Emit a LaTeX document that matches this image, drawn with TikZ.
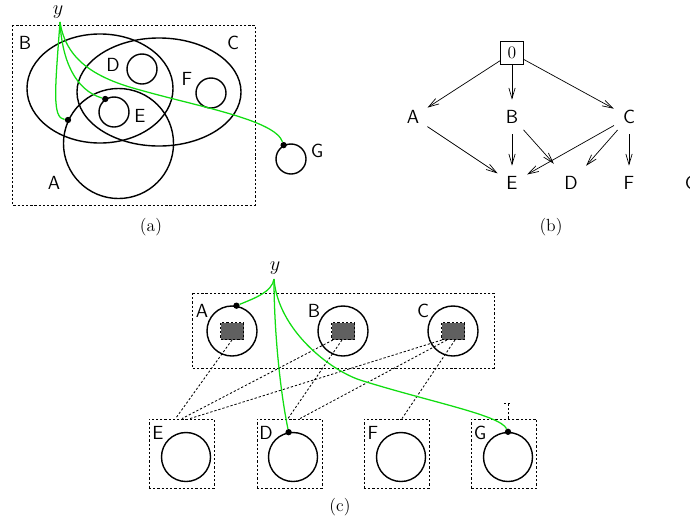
\documentclass[tikz,border=0pt]{standalone}
\usetikzlibrary{arrows.meta, calc, shapes.geometric}
\definecolor{wire}{HTML}{11DD11}
\definecolor{coregray}{HTML}{606060}

\begin{document}
\begin{tikzpicture}[
	x=0.025cm, y=-0.025cm,
	>={Straight Barb[length=7.5pt,width=4.5pt]},
	frame/.style={draw, line width=0.6pt, dash pattern=on 1.6pt off 1.4pt},
	region/.style={draw, ellipse, line width=1pt, inner sep=0pt},
	ring/.style={draw, circle, line width=1pt, inner sep=0pt},
	setlabel/.style={font=\fontsize{13.5}{16}\sffamily, inner sep=0pt},
	serif/.style={font=\fontsize{12.5}{15}\selectfont},
	varlabel/.style={font=\fontsize{14.4}{17}\selectfont, inner sep=0pt},
	hit/.style={circle, fill, inner sep=0pt, minimum size=4.5pt},
	wirepath/.style={wire, line width=0.9pt},
	lattice/.style={circle, inner sep=0pt, minimum size=0.85cm, font=\fontsize{13.5}{16}\sffamily},
	gridedge/.style={->, line width=0.5pt},
	core/.style={frame, rectangle, fill=coregray, minimum width=0.575cm, minimum height=0.425cm},
	cell/.style={frame, rectangle, minimum width=1.625cm, minimum height=1.725cm}
	]
	\useasboundingbox (0,0) rectangle (690,521);
	
	% ==========================================
	% PANEL (a): nested regions
	% ==========================================
	
	\draw[frame] (12,25) rectangle (255,205);
	
	\node[region, minimum width=3.65cm, minimum height=2.725cm] (eB) at (100,88.5) {};
	\node[region, minimum width=4.1cm, minimum height=2.7cm] (eC) at (159,92) {};
	\node[ring, minimum size=2.75cm] (cA) at (118.5,143.5) {};
	\node[ring, minimum size=0.75cm] (cD) at (142,69) {};
	\node[ring, minimum size=0.75cm] (cE) at (114,112) {};
	\node[ring, minimum size=0.75cm] (cF) at (211,93) {};
	\node[ring, minimum size=0.75cm] (cG) at (291,159) {};
	
	\node[setlabel] (lB) at (25,43) {B};
	\node[setlabel] (lC) at (233,43) {C};
	\node[setlabel] (lD) at (113,65) {D};
	\node[setlabel] (lF) at (187,79) {F};
	\node[setlabel] (lE) at (140,116) {E};
	\node[setlabel] (lA) at (54,183) {A};
	\node[setlabel] (lG) at (317,151) {G};
	
	% query point and its hits
	\node[varlabel] (ya) at (58,12) {$y$};
	\coordinate (ya0) at (60,22);
	\node[hit] (hA) at (cA.155) {};
	\node[hit] (hE) at (cE.124) {};
	\node[hit] (hG) at (cG.118) {};
	
	\draw[wirepath] (ya0) .. controls (55,90) and (52,118) .. (hA);
	\draw[wirepath] (ya0) .. controls (62,60) and (75,90) .. (hE);
	\draw[wirepath] (ya0) .. controls (66,60) and (95,78) .. (140,90)
	.. controls (200,107) and (275,120) .. (hG);
	
	\node[serif] (capa) at (151,227) {(a)};
	
	% ==========================================
	% PANEL (b): containment graph
	% ==========================================
	
	\node[draw, rectangle, line width=0.6pt, inner sep=0pt, minimum size=0.575cm, serif] (n0) at (512,53) {0};
	\node[lattice] (nA) at (413,117) {A};
	\node[lattice] (nB) at (512,117) {B};
	\node[lattice] (nC) at (629,117) {C};
	\node[lattice] (nE) at (512,183) {E};
	\node[lattice] (nD) at (571,183) {D};
	\node[lattice] (nF) at (629,183) {F};
	\node[lattice] (nG) at (691,183) {G};
	
	\draw[gridedge] (n0) -- (nA);
	\draw[gridedge] (n0) -- (nB);
	\draw[gridedge] (n0) -- (nC);
	\draw[gridedge] (nA) -- (nE);
	\draw[gridedge] (nB) -- (nE);
	\draw[gridedge, shorten >=6pt] (nB) -- (nD);
	\draw[gridedge] (nC) -- (nE);
	\draw[gridedge, shorten >=4pt] (nC) -- (nD);
	\draw[gridedge] (nC) -- (nF);
	
	\node[serif] (capb) at (551,227) {(b)};
	
	% ==========================================
	% PANEL (c): cells and their cores
	% ==========================================
	
	\draw[frame] (192,293) rectangle (494,368);
	
	\node[ring, minimum size=1.25cm] (tA) at (232,331) {};
	\node[ring, minimum size=1.25cm] (tB) at (343,331) {};
	\node[ring, minimum size=1.25cm] (tC) at (453,331) {};
	\node[core] (sA) at (232,331) {};
	\node[core] (sB) at (343,331) {};
	\node[core] (sC) at (453,331) {};
	\node[setlabel] (kA) at (202,311) {A};
	\node[setlabel] (kB) at (314,311) {B};
	\node[setlabel] (kC) at (423,311) {C};
	
	\node[cell] (bE) at (181.5,453.5) {};
	\node[cell] (bD) at (289.5,453.5) {};
	\node[cell] (bF) at (396.5,453.5) {};
	\node[cell] (bG) at (504,453.5) {};
	\node[ring, minimum size=1.225cm] (oE) at (186,457) {};
	\node[ring, minimum size=1.225cm] (oD) at (293,457) {};
	\node[ring, minimum size=1.225cm] (oF) at (401,457) {};
	\node[ring, minimum size=1.225cm] (oG) at (508,457) {};
	\node[setlabel] (kE) at (158,433) {E};
	\node[setlabel] (kD) at (266,433) {D};
	\node[setlabel] (kF) at (373,433) {F};
	\node[setlabel] (kG) at (480,433) {G};
	
	% links from cores down to cells
	\draw[frame] (sA.south) -- ($(bE.north)+(-6,0)$);
	\draw[frame] ($(sB.south)+(-10,0)$) -- ($(bE.north)+(0.5,0)$);
	\draw[frame] ($(sB.south)+(-1,0)$) -- ($(bD.north)+(-1.5,0)$);
	\draw[frame] ($(sC.south)+(-11,0)$) -- ($(bE.north)+(8.5,0)$);
	\draw[frame] ($(sC.south)+(-6,0)$) -- ($(bD.north)+(10.5,0)$);
	\draw[frame] ($(sC.south)+(2,0)$) -- ($(bF.north)+(5.5,0)$);
	
	% top mark over G
	\coordinate (gT) at (508,403);
	\draw[frame] (oG |- bG.north) -- (gT) ++(-4,0) -- ++(8,0);
	
	% query point and its hits
	\node[varlabel] (yc) at (275,268) {$y$};
	\coordinate (yc0) at (274,279);
	\node[hit] (hcA) at (tA.80) {};
	\node[hit] (hcD) at (oD.100) {};
	\node[hit] (hcG) at (oG.90) {};
	
	\draw[wirepath] (yc0) .. controls (272,292) and (255,298) .. (hcA);
	\draw[wirepath] (yc0) .. controls (274,330) and (280,390) .. (hcD);
	\draw[wirepath] (yc0) .. controls (278,330) and (330,370) .. (360,380)
	.. controls (430,402) and (500,415) .. (hcG);
	
	\node[serif] (capc) at (340,507) {(c)};
\end{tikzpicture}
\end{document}
